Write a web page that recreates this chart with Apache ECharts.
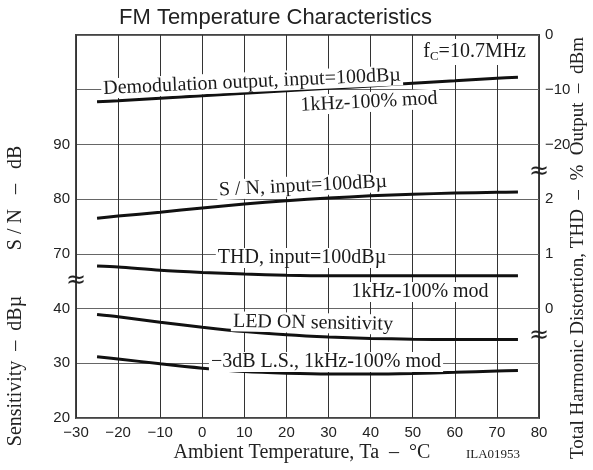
<!DOCTYPE html>
<html><head><meta charset="utf-8">
<script src="https://cdn.jsdelivr.net/npm/echarts@6/dist/echarts.min.js"></script>
<style>html,body{margin:0;padding:0;background:#fff}#c{width:593px;height:470px}</style>
</head><body><div id="c"></div>
<script>
// Temperature (°C)
const temps = [-25, -20, -10, 0, 10, 20, 30, 40, 50, 60, 70, 75];
// Demodulation output (dBm, right axis upper part)
const demodOut = [-12.2, -12.0, -11.55, -11.1, -10.65, -10.2, -9.75, -9.3, -8.8, -8.35, -7.9, -7.7];
// S/N (dB, left axis upper part)
const snr = [76.5, 76.9, 77.6, 78.4, 79.1, 79.7, 80.2, 80.6, 80.9, 81.1, 81.25, 81.3];
// THD (%, right axis middle part)
const thd = [0.78, 0.76, 0.70, 0.66, 0.63, 0.61, 0.60, 0.60, 0.60, 0.60, 0.60, 0.60];
// LED ON sensitivity (dBµ, left axis lower part)
const ledOn = [38.9, 38.5, 37.5, 36.6, 35.8, 35.2, 34.8, 34.55, 34.4, 34.35, 34.35, 34.35];
// -3dB L.S. (dBµ, left axis lower part)
const ls3 = [31.2, 30.8, 29.9, 29.1, 28.5, 28.2, 28.05, 28.05, 28.15, 28.35, 28.6, 28.7];

// tick labels at grid positions 0..7 (bottom to top)
const leftTickLabels = ['20', '30', '40', '70', '80', '90', '', ''];
const rightTickLabels = ['', '', '0', '1', '2', '−20', '−10', '0'];

// broken-scale mapping to grid positions
function posSens(v) { return (v - 20) / 10; }        // 20..40 dBµ -> 0..2
function posSN(v) { return 3 + (v - 70) / 10; }       // 70..110 dB -> 3..7
function posTHD(v) { return 2 + v; }                  // 0..2 % -> 2..4
function posDBm(v) { return 7 + v / 10; }             // -20..0 dBm -> 5..7

function pts(arr, f) { return temps.map((t, i) => [t, f(arr[i])]); }

const chart = echarts.init(document.getElementById('c'), null, {renderer: 'canvas'});
const serif = 'Liberation Serif';
const sans = 'Liberation Sans';
function lbl(text, x, y, rot, size) {
  return {type: 'text', x: x, y: y, rotation: rot || 0, z: 100,
    style: {text: text, fontFamily: serif, fontSize: size || 20, fill: '#1a1a1a',
      align: 'center', verticalAlign: 'middle', backgroundColor: '#fff', padding: [0, 2]}};
}
const lineStyle = {color: '#111', width: 3};
chart.setOption({
  animation: false,
  title: {text: 'FM Temperature Characteristics', left: 114, top: 2,
    textStyle: {fontFamily: sans, fontSize: 22, fontWeight: 'normal', color: '#222'}},
  grid: {left: 76, right: 54, top: 35, bottom: 52, show: true, borderColor: '#444', borderWidth: 2},
  xAxis: {type: 'value', min: -30, max: 80, interval: 10,
    axisLine: {show: false}, axisTick: {show: false},
    axisLabel: {fontFamily: sans, fontSize: 15, color: '#222', margin: 7,
      formatter: v => String(v).replace('-', '−')},
    splitLine: {show: true, lineStyle: {color: '#333', width: 1}}},
  yAxis: [
    {type: 'value', min: 0, max: 7, interval: 1, position: 'left',
      axisLine: {show: false}, axisTick: {show: false},
      axisLabel: {fontFamily: sans, fontSize: 15, color: '#222', margin: 6,
        formatter: v => leftTickLabels[Math.round(v)]},
      splitLine: {show: true, lineStyle: {color: '#666', width: 1}}},
    {type: 'value', min: 0, max: 7, interval: 1, position: 'right',
      axisLine: {show: false}, axisTick: {show: false},
      axisLabel: {fontFamily: sans, fontSize: 15, color: '#222', margin: 6,
        formatter: v => rightTickLabels[Math.round(v)]},
      splitLine: {show: false}}
  ],
  series: [
    {type: 'line', data: pts(demodOut, posDBm), smooth: 0.3, showSymbol: false, lineStyle: lineStyle},
    {type: 'line', data: pts(snr, posSN), smooth: 0.3, showSymbol: false, lineStyle: lineStyle},
    {type: 'line', data: pts(thd, posTHD), smooth: 0.3, showSymbol: false, lineStyle: lineStyle},
    {type: 'line', data: pts(ledOn, posSens), smooth: 0.3, showSymbol: false, lineStyle: lineStyle},
    {type: 'line', data: pts(ls3, posSens), smooth: 0.3, showSymbol: false, lineStyle: lineStyle}
  ],
  graphic: [
    lbl('Demodulation output, input=100dBµ', 252, 82, 0.045),
    lbl('1kHz-100% mod', 369, 102, 0.05),
    lbl('S / N, input=100dBµ', 303, 186, 0.05),
    lbl('THD, input=100dBµ', 302, 258, 0),
    lbl('1kHz-100% mod', 420, 292, 0),
    lbl('LED ON sensitivity', 313, 323, -0.02),
    lbl('−3dB L.S., 1kHz-100% mod', 326, 362, 0),
    {type: 'text', x: 528, y: 52, z: 100,
      style: {text: '{n|f}{s|C}{n|=10.7MHz}', align: 'right', verticalAlign: 'middle',
        backgroundColor: '#fff', padding: [2, 2],
        rich: {n: {fontFamily: serif, fontSize: 20, fill: '#1a1a1a'},
               s: {fontFamily: serif, fontSize: 13, fill: '#1a1a1a', padding: [9, 0, 0, 0]}}}},
    {type: 'text', x: 76, y: 281, z: 110, style: {text: '≈', fontFamily: 'DejaVu Sans', fontSize: 24, fill: '#222', align: 'center', verticalAlign: 'middle'}},
    {type: 'text', x: 539, y: 172, z: 110, style: {text: '≈', fontFamily: 'DejaVu Sans', fontSize: 24, fill: '#222', align: 'center', verticalAlign: 'middle'}},
    {type: 'text', x: 539, y: 336, z: 110, style: {text: '≈', fontFamily: 'DejaVu Sans', fontSize: 24, fill: '#222', align: 'center', verticalAlign: 'middle'}},
    {type: 'text', x: 302, y: 453, style: {text: 'Ambient Temperature, Ta  –  °C', fontFamily: serif, fontSize: 20, fill: '#222', align: 'center', verticalAlign: 'middle'}},
    {type: 'text', x: 493, y: 455, style: {text: 'ILA01953', fontFamily: serif, fontSize: 13, fill: '#222', align: 'center', verticalAlign: 'middle'}},
    {type: 'text', x: 16, y: 371, rotation: Math.PI / 2, style: {text: 'Sensitivity  –  dBµ', fontFamily: serif, fontSize: 20, fill: '#222', align: 'center', verticalAlign: 'middle'}},
    {type: 'text', x: 16, y: 198, rotation: Math.PI / 2, style: {text: 'S / N   –   dB', fontFamily: serif, fontSize: 20, fill: '#222', align: 'center', verticalAlign: 'middle'}},
    {type: 'text', x: 578, y: 248, rotation: Math.PI / 2, style: {text: 'Total Harmonic Distortion, THD  –  %  Output  –  dBm', fontFamily: serif, fontSize: 19, fill: '#222', align: 'center', verticalAlign: 'middle'}}
  ]
});
</script></body></html>
